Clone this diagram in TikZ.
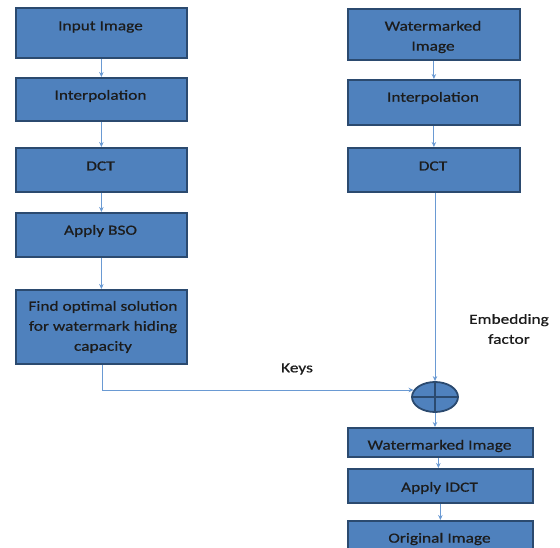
\documentclass[tikz,border=0pt]{standalone}
\usepackage{fontspec}
\setmainfont{Carlito}[FakeStretch=1.24,FakeBold=0.6]
\usetikzlibrary{arrows.meta,shapes.geometric}
\definecolor{boxfill}{HTML}{4F81BD}
\definecolor{boxline}{HTML}{2B4A6F}
\definecolor{arrowc}{HTML}{6A9AD3}
\definecolor{txt}{HTML}{1C1C1C}
\begin{document}
\begin{tikzpicture}[x=1pt,y=-1pt,
  box/.style 2 args={draw=boxline, line width=1.8pt, fill=boxfill, anchor=north west,
    inner sep=0pt, minimum width=#1, minimum height=#2},
  lbl/.style={text=txt, inner sep=0pt, font=\fontsize{14}{20}\selectfont, align=center},
  arr/.style={draw=arrowc, line width=1pt, -{Stealth[length=5pt,width=4.5pt]}}]
\useasboundingbox (0,0) rectangle (560,548);
% left column
\node[box={171pt}{50pt}] (in) at (15,7) {};
\node[box={171pt}{43pt}] (ip1) at (15,77) {};
\node[box={171pt}{44pt}] (dct1) at (15,147) {};
\node[box={171pt}{44pt}] (bso) at (15,212) {};
\node[box={171pt}{74pt}] (find) at (15,289) {};
% right column
\node[box={172pt}{51pt}] (wm) at (347,8) {};
\node[box={172pt}{45pt}] (ip2) at (347,79) {};
\node[box={172pt}{44pt}] (dct2) at (347,147) {};
\node[ellipse, draw=boxline, line width=1.8pt, fill=boxfill, minimum width=46pt,
  minimum height=30pt, inner sep=0pt] (xo) at (435,397) {};
\draw[draw=boxline, line width=1.8pt] (xo.north) -- (xo.south) (xo.west) -- (xo.east);
\node[box={185pt}{29pt}] (wm2) at (347,427) {};
\node[box={185pt}{34pt}] (idct) at (347,468) {};
\node[box={185pt}{34pt}] (orig) at (347,520) {};
% texts
\node[lbl] (t1) at (100.5,27) {Input Image};
\node[lbl] (t2) at (100.5,96) {Interpolation};
\node[lbl] (t3) at (100.5,166) {DCT};
\node[lbl] (t4) at (100.5,231) {Apply BSO};
\node[lbl] (t5) at (103,327) {Find optimal solution\\for watermark hiding\\capacity};
\node[lbl] (t6) at (433,37) {Watermarked\\Image};
\node[lbl] (t7) at (433,98) {Interpolation};
\node[lbl] (t8) at (433,166) {DCT};
\node[lbl] (t9) at (439.5,446) {Watermarked Image};
\node[lbl] (t10) at (439.5,488) {Apply IDCT};
\node[lbl] (t11) at (439.5,539) {Original Image};
\node[lbl] (keys) at (297,369) {Keys};
\node[lbl] (emb) at (509,329) {Embedding\\factor};
% connectors
\draw[arr] (in.south) -- (ip1.north);
\draw[arr] (ip1.south) -- (dct1.north);
\draw[arr] (dct1.south) -- (bso.north);
\draw[arr] (bso.south) -- (find.north);
\draw[arr] ([xshift=1.5pt]find.south) |- (xo.162);
\draw[arr] (wm.south) -- (ip2.north);
\draw[arr] (ip2.south) -- (dct2.north);
\draw[arr] (dct2.south -| xo.north) -- (xo.north);
\draw[arr] (xo.south) -- (wm2.north -| xo.south);
\draw[arr] ([xshift=-2pt]wm2.south) -- ([xshift=-2pt]idct.north);
\draw[arr] (idct.south) -- (orig.north);
\end{tikzpicture}
\end{document}
